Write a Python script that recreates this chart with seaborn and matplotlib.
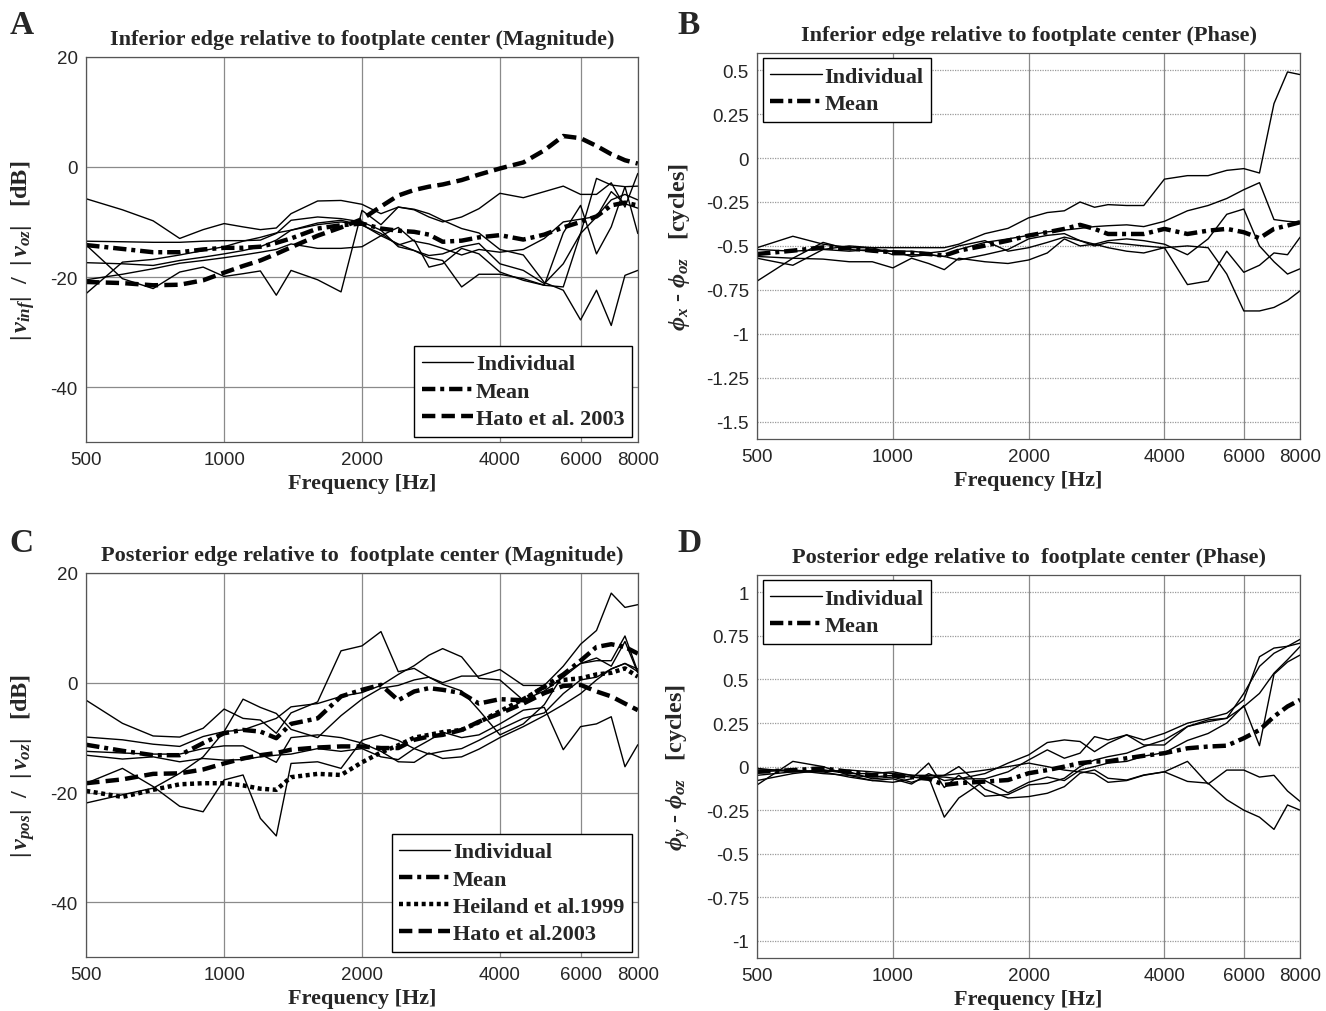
#!/usr/bin/env python

import pandas as pd
import seaborn as sns
import matplotlib
from matplotlib import pyplot as plt
from matplotlib.lines import Line2D

matplotlib.use("Agg")

# measurement frequencies (Hz)
FREQ = [500, 600, 700, 800, 900, 1000, 1100, 1200, 1300, 1400, 1600, 1800, 2000,
        2200, 2400, 2600, 2800, 3000, 3300, 3600, 4000, 4500, 5000, 5500, 6000,
        6500, 7000, 7500, 8000]
XTICKS = [500, 1000, 2000, 4000, 6000, 8000]

# A: inferior edge magnitude (dB)
INF_MAG_IND = [
    [-5.8, -7.8, -9.8, -13.0, -11.4, -10.3, -10.9, -11.4, -11.1, -8.5, -6.2, -6.1, -6.8,
     -8.5, -7.3, -7.8, -9.1, -10.0, -9.1, -7.6, -4.8, -5.6, -4.5, -3.5, -5.0, -5.0, -2.9, -7.3, -1.2],
    [-13.5, -13.6, -13.7, -13.7, -13.5, -13.4, -13.4, -13.3, -12.1, -9.7, -9.1, -9.4, -10.0,
     -11.5, -14.5, -15.2, -16.1, -15.8, -14.5, -13.9, -17.6, -18.8, -21.2, -17.6, -12.1, -9.1, -4.5, -6.7, -7.5],
    [-17.4, -17.6, -17.9, -17.0, -16.4, -15.8, -15.2, -14.5, -13.3, -11.5, -10.2, -9.7, -10.6,
     -12.1, -14.2, -13.3, -18.2, -17.6, -14.8, -15.8, -19.1, -20.6, -21.5, -21.8, -12.1, -2.1, -3.3, -3.6, -3.5],
    [-14.2, -20.3, -22.1, -19.1, -18.2, -19.9, -19.4, -18.9, -23.3, -18.8, -20.5, -22.7, -7.9,
     -10.5, -7.3, -7.7, -8.5, -9.7, -11.2, -12.0, -15.0, -16.0, -21.0, -22.4, -27.8, -22.4, -28.8, -19.7, -18.8],
    [-23.0, -17.3, -16.8, -16.0, -15.2, -14.5, -13.5, -12.8, -12.0, -11.5, -10.5, -10.0, -10.5,
     -12.5, -14.0, -15.2, -16.5, -17.0, -21.8, -19.5, -19.5, -20.3, -21.5, -12.0, -7.0, -15.8, -10.9, -3.6, -12.1],
    [-20.5, -19.5, -18.5, -17.5, -17.0, -16.5, -16.0, -15.5, -15.0, -14.0, -14.8, -14.8, -14.5,
     -12.5, -11.0, -13.5, -14.0, -14.8, -16.0, -15.0, -15.5, -15.0, -13.0, -10.0, -9.5, -9.0, -6.0, -5.0, -6.0],
]
INF_MAG_MEAN = [-14.2, -14.9, -15.5, -15.5, -15.0, -14.7, -14.7, -14.5, -13.8, -13.0, -11.2, -10.6, -10.3,
                -11.2, -11.6, -11.8, -12.3, -13.6, -13.4, -12.8, -12.4, -13.2, -12.3, -11.0, -10.0,
                -9.0, -7.0, -6.5, -7.0]
INF_MAG_HATO = [-20.9, -21.1, -21.5, -21.4, -20.6, -19.2, -18.0, -17.0, -15.8, -14.6, -12.5, -11.0, -9.5,
                -7.2, -5.2, -4.2, -3.6, -3.2, -2.4, -1.4, -0.3, 0.8, 3.0, 5.6, 5.2, 3.8, 2.3, 1.2, 0.6]

# B: inferior edge phase (cycles)
INF_PH_IND = [
    [-0.51, -0.445, -0.49, -0.51, -0.51, -0.51, -0.51, -0.51, -0.51, -0.49, -0.43, -0.40, -0.34,
     -0.31, -0.30, -0.25, -0.28, -0.265, -0.27, -0.27, -0.12, -0.10, -0.10, -0.07, -0.06, -0.085, 0.31, 0.49, 0.475],
    [-0.57, -0.61, -0.52, -0.50, -0.51, -0.55, -0.55, -0.55, -0.56, -0.52, -0.48, -0.46, -0.44,
     -0.42, -0.41, -0.40, -0.39, -0.385, -0.38, -0.39, -0.36, -0.30, -0.27, -0.23, -0.18, -0.14, -0.35, -0.36, -0.365],
    [-0.70, -0.57, -0.48, -0.52, -0.53, -0.53, -0.56, -0.55, -0.56, -0.58, -0.55, -0.52, -0.46,
     -0.44, -0.43, -0.47, -0.49, -0.47, -0.46, -0.47, -0.49, -0.55, -0.46, -0.32, -0.29, -0.50, -0.59, -0.66, -0.63],
    [-0.56, -0.57, -0.575, -0.59, -0.59, -0.625, -0.57, -0.60, -0.635, -0.57, -0.59, -0.60, -0.58,
     -0.54, -0.46, -0.50, -0.49, -0.51, -0.53, -0.54, -0.51, -0.50, -0.51, -0.66, -0.87, -0.87, -0.85, -0.81, -0.755],
    [-0.52, -0.53, -0.52, -0.53, -0.52, -0.53, -0.53, -0.54, -0.53, -0.50, -0.47, -0.53, -0.51,
     -0.48, -0.45, -0.47, -0.50, -0.48, -0.49, -0.50, -0.51, -0.72, -0.70, -0.53, -0.65, -0.61, -0.54, -0.55, -0.45],
]
INF_PH_MEAN = [-0.546, -0.527, -0.508, -0.513, -0.527, -0.536, -0.540, -0.546, -0.555, -0.527, -0.498,
               -0.470, -0.441, -0.422, -0.403, -0.380, -0.403, -0.432, -0.432, -0.432, -0.403, -0.432,
               -0.413, -0.403, -0.422, -0.456, -0.403, -0.384, -0.365]

# C: posterior edge magnitude (dB)
POS_MAG_IND = [
    [-3.2, -7.4, -9.7, -9.9, -8.3, -4.8, -6.5, -6.8, -9.2, -5.5, -3.5, 5.8, 6.7,
     9.3, 2.0, 2.6, 1.0, 0.0, 1.2, 1.2, 2.4, -0.5, -0.5, 3.0, 7.0, 9.5, 16.3, 13.7, 14.2],
    [-9.9, -10.4, -11.2, -11.6, -9.8, -8.9, -8.6, -7.5, -6.5, -4.4, -3.8, -2.5, -1.8,
     -0.5, 1.5, 3.1, 5.0, 6.2, 4.7, 0.8, 0.5, -3.2, -1.5, 1.0, 3.5, 4.0, 4.0, 8.5, 2.0],
    [-13.2, -13.9, -13.5, -14.4, -13.8, -14.1, -14.0, -13.5, -13.2, -13.0, -12.0, -12.5, -12.0,
     -13.5, -14.0, -12.0, -13.0, -12.5, -12.0, -10.5, -8.5, -6.5, -5.5, -2.0, 0.5, 1.0, 2.5, 3.5, 2.0],
    [-18.3, -15.6, -18.9, -22.5, -23.5, -17.7, -16.8, -24.7, -27.9, -14.7, -14.4, -15.6, -10.5,
     -9.5, -10.5, -12.0, -10.5, -9.0, -10.0, -9.5, -7.5, -5.0, -4.5, -12.2, -8.0, -7.5, -6.2, -15.3, -11.3],
    [-21.9, -20.4, -19.2, -16.5, -13.5, -8.9, -3.0, -4.5, -5.6, -8.5, -10.0, -6.0, -3.0,
     -1.0, -0.5, 0.5, 1.0, -0.3, -1.5, -5.0, -9.5, -7.5, -4.0, 1.5, 3.5, 4.5, 3.0, 7.5, 1.8],
    [-12.5, -12.8, -13.0, -13.0, -12.0, -11.5, -11.5, -13.0, -14.5, -10.0, -9.5, -10.0, -11.0,
     -12.5, -14.4, -14.5, -12.8, -13.8, -13.5, -12.1, -10.0, -8.0, -6.0, -4.0, -2.0, 0.5, 2.5, 3.5, 2.5],
]
POS_MAG_MEAN = [-11.3, -12.4, -13.2, -13.2, -11.0, -9.2, -8.6, -8.9, -10.1, -7.5, -6.5, -2.5, -1.3,
                -0.4, -3.2, -1.6, -1.0, -1.3, -1.9, -3.8, -3.0, -3.2, -0.7, 1.5, 4.0, 6.5, 7.0, 6.5, 5.3]
POS_MAG_HEILAND = [-19.7, -20.8, -19.5, -18.5, -18.3, -18.3, -18.7, -19.3, -19.5, -17.2, -16.6, -16.8, -14.5,
                   -12.7, -11.4, -10.0, -9.5, -9.0, -8.6, -7.2, -5.2, -3.0, -0.8, 0.5, 0.8, 1.5, 1.8, 2.6, 1.1]
POS_MAG_HATO = [-18.3, -17.6, -16.6, -16.5, -15.8, -14.7, -13.8, -13.2, -12.8, -12.2, -11.8, -11.6, -11.6,
                -11.9, -11.9, -10.4, -9.8, -9.5, -8.6, -7.1, -5.6, -3.8, -1.9, -0.6, -0.4, -1.6, -2.5, -3.8, -5.0]

# D: posterior edge phase (cycles)
POS_PH_IND = [
    [-0.02, -0.02, -0.03, -0.02, -0.03, -0.04, -0.05, -0.06, -0.06, -0.07, -0.04, 0.02, 0.067,
     0.138, 0.153, 0.144, 0.086, 0.134, 0.182, 0.153, 0.191, 0.249, 0.277, 0.306, 0.383, 0.63, 0.68, 0.69, 0.708],
    [-0.05, -0.03, -0.03, -0.06, -0.08, -0.07, -0.10, -0.04, -0.08, -0.07, -0.07, -0.03, 0.038,
     0.096, 0.048, 0.077, 0.172, 0.153, 0.182, 0.124, 0.124, 0.23, 0.258, 0.277, 0.344, 0.42, 0.536, 0.613, 0.689],
    [-0.105, 0.03, 0.0, -0.05, -0.08, -0.09, -0.07, 0.02, -0.12, -0.05, -0.17, -0.16, -0.105,
     -0.096, -0.067, 0.0, 0.038, 0.057, 0.077, 0.115, 0.153, 0.23, 0.268, 0.277, 0.42, 0.575, 0.65, 0.69, 0.73],
    [-0.08, -0.04, -0.02, -0.03, -0.07, -0.06, -0.09, -0.06, -0.29, -0.18, -0.08, -0.15, -0.09,
     -0.06, -0.08, -0.02, 0.0, 0.02, 0.03, 0.06, 0.08, 0.15, 0.19, 0.25, 0.35, 0.12, 0.53, 0.60, 0.64],
    [-0.03, -0.02, -0.04, -0.05, -0.06, -0.05, -0.06, -0.07, -0.05, 0.0, -0.13, -0.18, -0.172,
     -0.153, -0.115, -0.038, -0.019, -0.067, -0.077, -0.048, -0.03, -0.085, -0.095, -0.19, -0.25, -0.29, -0.36, -0.22, -0.25],
    [-0.01, -0.03, -0.02, -0.04, -0.04, -0.03, -0.05, -0.05, -0.05, -0.04, -0.02, 0.0, 0.02,
     0.0, -0.02, -0.03, -0.04, -0.09, -0.08, -0.05, -0.03, 0.03, -0.10, -0.02, -0.02, -0.06, -0.05, -0.14, -0.20],
]
POS_PH_MEAN = [-0.03, -0.02, -0.01, -0.03, -0.05, -0.05, -0.06, -0.07, -0.105, -0.095, -0.086, -0.077, -0.038,
               -0.02, 0.0, 0.02, 0.029, 0.03, 0.048, 0.062, 0.077, 0.105, 0.115, 0.12, 0.163, 0.21, 0.287,
               0.345, 0.383]

DASHDOT = (0, (3.0, 1.1, 0.9, 1.1))
DASHED = (0, (3.0, 1.4))
DOTTED = (0, (0.9, 0.8))

SERIF = ["Liberation Serif", "DejaVu Serif"]
LABEL_FONT = {"family": SERIF, "weight": "bold", "size": 16}
YLABEL_FONT = {"family": SERIF, "weight": "bold", "size": 17.5}


def individual_frame(lines):
    rows = []
    for i, vals in enumerate(lines):
        for f, v in zip(FREQ, vals):
            rows.append({"freq": f, "value": v, "line": i})
    return pd.DataFrame(rows)


def draw_panel(ax, ind, mean, refs, ylim, yticks, ylabels, title, ylabel,
               legend_loc, dotted_hgrid):
    sns.lineplot(data=individual_frame(ind), x="freq", y="value", units="line",
                 estimator=None, color="black", lw=1.0, legend=False, ax=ax)
    sns.lineplot(x=FREQ, y=mean, color="black", lw=3.2, linestyle=DASHDOT, ax=ax)
    handles = [
        Line2D([], [], color="black", lw=1.0),
        Line2D([], [], color="black", lw=3.2, linestyle=DASHDOT),
    ]
    labels = ["Individual", "Mean"]
    for name, vals, ls in refs:
        sns.lineplot(x=FREQ, y=vals, color="black", lw=3.2, linestyle=ls, ax=ax)
        handles.append(Line2D([], [], color="black", lw=3.2, linestyle=ls))
        labels.append(name)

    ax.set_xscale("log")
    ax.set_xlim(500, 8000)
    ax.set_ylim(*ylim)
    ax.minorticks_off()
    ax.set_xticks(XTICKS, [str(t) for t in XTICKS], fontfamily="Liberation Sans", fontsize=13.5)
    ax.set_yticks(yticks, ylabels, fontfamily="Liberation Sans", fontsize=13.5)
    ax.tick_params(axis="both", direction="in", length=3, width=0.6, pad=6, color="#444444")

    ax.set_axisbelow(True)
    ax.xaxis.grid(True, color="#8a8a8a", lw=0.9, linestyle="-")
    if dotted_hgrid:
        ax.yaxis.grid(True, color="#9a9a9a", lw=0.9, linestyle=(0, (1, 1)))
    else:
        ax.yaxis.grid(True, color="#8a8a8a", lw=0.9, linestyle="-")
    for sp in ax.spines.values():
        sp.set_color("#555555")
        sp.set_linewidth(0.9)

    ax.set_title(title, fontdict=LABEL_FONT, pad=9)
    ax.set_xlabel("Frequency [Hz]", fontdict=LABEL_FONT, labelpad=4)
    ax.set_ylabel(ylabel, fontdict=YLABEL_FONT)

    leg = ax.legend(handles, labels, loc=legend_loc, prop=LABEL_FONT,
                    handlelength=2.3, handletextpad=0.12, labelspacing=0.3,
                    borderpad=0.35, borderaxespad=0.25, fancybox=False,
                    framealpha=1, edgecolor="black")
    leg.get_frame().set_linewidth(1.0)


def main():
    sns.set_theme(style="whitegrid")
    plt.rcParams["font.family"] = SERIF
    plt.rcParams["mathtext.fontset"] = "custom"
    plt.rcParams["mathtext.rm"] = "Liberation Serif:bold"
    plt.rcParams["mathtext.it"] = "Liberation Serif:italic:bold"
    plt.rcParams["mathtext.bf"] = "Liberation Serif:bold"

    fig = plt.figure(figsize=(13.26, 10.12), dpi=100)
    ax_a = fig.add_axes([0.065, 0.562, 0.416, 0.381])
    ax_b = fig.add_axes([0.571, 0.565, 0.4095, 0.382])
    ax_c = fig.add_axes([0.065, 0.053, 0.416, 0.380])
    ax_d = fig.add_axes([0.571, 0.052, 0.4095, 0.379])

    mag_ticks = [20, 0, -20, -40]
    mag_labels = ["20", "0", "-20", "-40"]

    draw_panel(ax_a, INF_MAG_IND, INF_MAG_MEAN,
               [("Hato et al. 2003", INF_MAG_HATO, DASHED)],
               (-50, 20), mag_ticks, mag_labels,
               "Inferior edge relative to footplate center (Magnitude)",
               r"$|\,v_{inf}|$  /  $|\,v_{oz}|$   [dB]", "lower right", False)

    b_ticks = [0.5, 0.25, 0, -0.25, -0.5, -0.75, -1, -1.25, -1.5]
    draw_panel(ax_b, INF_PH_IND, INF_PH_MEAN, [], (-1.6, 0.6), b_ticks,
               [f"{t:g}" for t in b_ticks],
               "Inferior edge relative to footplate center (Phase)",
               r"$\phi_x$ - $\phi_{oz}$   [cycles]", "upper left", True)

    draw_panel(ax_c, POS_MAG_IND, POS_MAG_MEAN,
               [("Heiland et al.1999", POS_MAG_HEILAND, DOTTED),
                ("Hato et al.2003", POS_MAG_HATO, DASHED)],
               (-50, 20), mag_ticks, mag_labels,
               "Posterior edge relative to  footplate center (Magnitude)",
               r"$|\,v_{pos}|$  /  $|\,v_{oz}|$   [dB]", "lower right", False)

    d_ticks = [1, 0.75, 0.5, 0.25, 0, -0.25, -0.5, -0.75, -1]
    draw_panel(ax_d, POS_PH_IND, POS_PH_MEAN, [], (-1.1, 1.1), d_ticks,
               [f"{t:g}" for t in d_ticks],
               "Posterior edge relative to  footplate center (Phase)",
               r"$\phi_y$ - $\phi_{oz}$   [cycles]", "upper left", True)

    ax_a.yaxis.set_label_coords(-0.09, 0.5)
    ax_c.yaxis.set_label_coords(-0.09, 0.5)
    ax_b.yaxis.set_label_coords(-0.12, 0.5)
    ax_d.yaxis.set_label_coords(-0.12, 0.5)

    letter_font = {"family": SERIF, "weight": "bold", "size": 24}
    for letter, x, y in [("A", 0.007, 0.99), ("B", 0.511, 0.99),
                         ("C", 0.007, 0.478), ("D", 0.511, 0.478)]:
        fig.text(x, y, letter, fontdict=letter_font, va="top", ha="left")

    fig.savefig("out.png", dpi=100)


if __name__ == "__main__":
    main()
